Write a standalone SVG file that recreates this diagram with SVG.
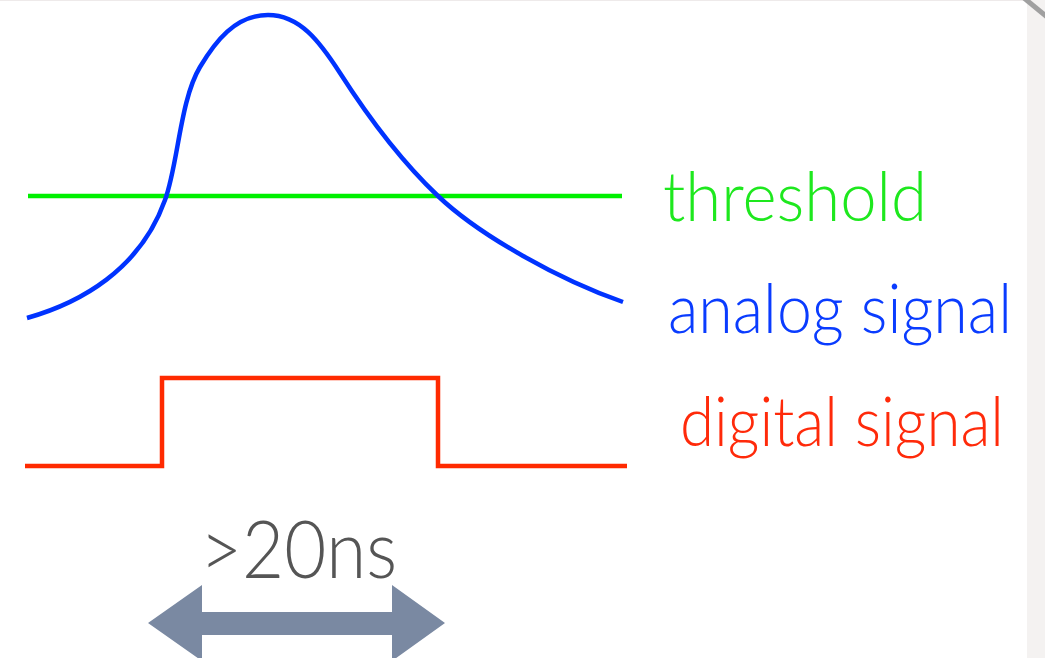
<svg xmlns="http://www.w3.org/2000/svg" width="1045" height="658" viewBox="0 0 1045 658">
  <style>
    .lbl { font-family: Lato, "Open Sans", "Liberation Sans", sans-serif; font-size: 68px; font-weight: 300; }
    .wave { fill: none; stroke-width: 4.5; }
  </style>
  <rect x="0" y="0" width="1045" height="658" fill="#ffffff"/>
  <g id="frame">
    <rect x="1027" y="0" width="18" height="658" fill="#f4f2f1"/>
    <line x1="0" y1="0.5" x2="1027" y2="0.5" stroke="#eeeaea" stroke-width="1"/>
    <line x1="1024" y1="-2" x2="1047" y2="17" stroke="#a0a0a0" stroke-width="5"/>
  </g>
  <g id="connectors">
    <g id="threshold-line">
      <line x1="28" y1="196" x2="622" y2="196" stroke="#00f000" stroke-width="4.5"/>
    </g>
    <g id="analog-curve">
      <path class="wave" stroke="#0033ff" d="M27,318 C80,303 140,270 165,200 C178,165 180,100 200,67 C215,42 235,15 268,15 C300,15 320,42 340,73 C365,112 400,160 438,196 C480,236 560,280 623,302"/>
    </g>
    <g id="digital-pulse">
      <polyline class="wave" stroke="#ff2a00" stroke-width="5" points="25,466 162,466 162,378 438,378 438,466 627,466"/>
    </g>
    <g id="duration-arrow">
      <polygon fill="#7a89a2" points="148,623 202,585 202,612 392,612 392,585 445,623 392,661 392,635 202,635 202,661"/>
    </g>
  </g>
  <g id="label-threshold">
    <text class="lbl" x="663" y="221" fill="#1ee81e" textLength="264" lengthAdjust="spacingAndGlyphs">threshold</text>
  </g>
  <g id="label-analog">
    <text class="lbl" x="668" y="333" fill="#0a3cff" textLength="344" lengthAdjust="spacingAndGlyphs">analog signal</text>
  </g>
  <g id="label-digital">
    <text class="lbl" x="680" y="446" fill="#ff2a0a" textLength="324" lengthAdjust="spacingAndGlyphs">digital signal</text>
  </g>
  <g id="label-duration">
    <text class="lbl" x="200" y="578" fill="#555555" textLength="197" lengthAdjust="spacingAndGlyphs" style="font-size:80px">&gt;20ns</text>
  </g>
</svg>
